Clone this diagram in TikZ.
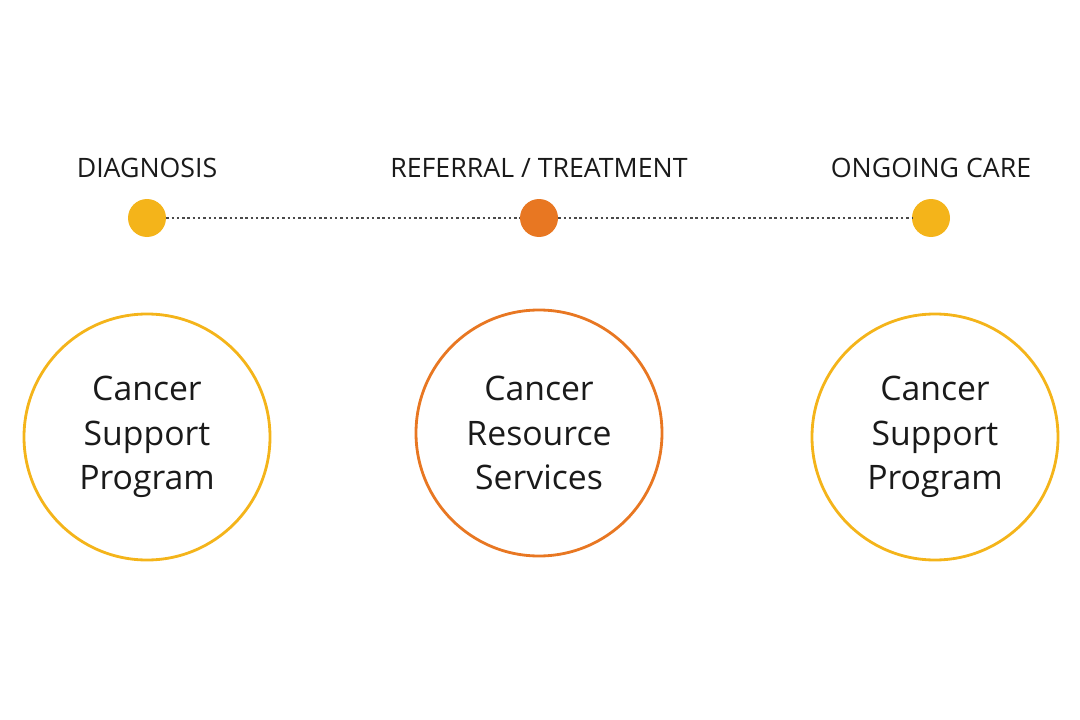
\documentclass[tikz,border=0pt]{standalone}
\usepackage{fontspec}
\setmainfont{Open Sans}
\definecolor{CareYellow}{HTML}{F4B41A}
\definecolor{CareOrange}{HTML}{E87722}
\definecolor{CareDark}{HTML}{1A1A1A}
\definecolor{CareGray}{HTML}{4A4A4A}
\usepackage{tikz}
\usetikzlibrary{positioning}

\begin{document}
\begin{tikzpicture}[x=0.02cm, y=-0.02cm,
    every node/.style={font=\fontsize{15.2}{18}\selectfont, color=CareDark},
    stagedot/.style={circle, minimum size=38*0.02cm, inner sep=0pt},
    servicering/.style={circle, minimum size=246*0.02cm, inner sep=0pt, line width=1.6pt,
      align=center, font=\fontsize{19.2}{25.5}\selectfont}]
      \useasboundingbox (0,0) rectangle (1080,720);

      % Timeline
      \foreach \n/\x/\c/\t in {diag/147/CareYellow/DIAGNOSIS,
          refer/539/CareOrange/{REFERRAL / TREATMENT},
          care/931/CareYellow/ONGOING CARE} {
        \node[stagedot, fill=\c] (\n) at (\x,218) {};
        \node (\n-label) at (\x,168) {\t};
      }
      \draw[CareGray, line width=1.1pt, dash pattern=on 1.4pt off 1.6pt] (diag) -- (refer) -- (care);

      % Services
      \node[servicering, draw=CareYellow] (support1) at (147,437) {Cancer\\Support\\Program};
      \node[servicering, draw=CareOrange] (resource) at (539,433) {Cancer\\Resource\\Services};
      \node[servicering, draw=CareYellow] (support2) at (935,437) {Cancer\\Support\\Program};
\end{tikzpicture}
\end{document}
